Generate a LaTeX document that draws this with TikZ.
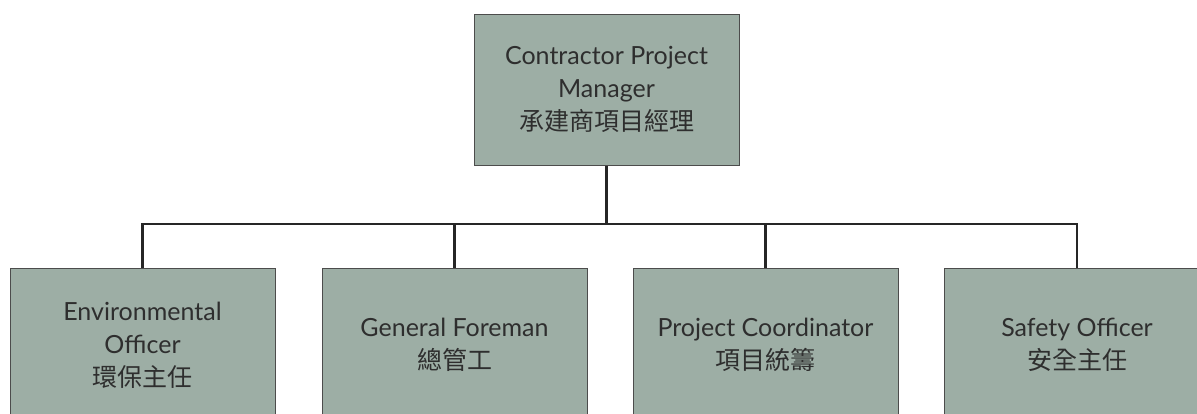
\documentclass[tikz,border=0pt]{standalone}
\usepackage{fontspec}
\setmainfont{Lato}
\newfontfamily\cjk{Noto Sans CJK TC}
\usepackage{tikz}
\usetikzlibrary{positioning}

\definecolor{boxfill}{HTML}{9DAEA5}
\definecolor{boxtext}{HTML}{2E2E2E}

\tikzset{
  role/.style={draw=black!70, line width=0.5pt, fill=boxfill, text=boxtext,
    minimum width=132.5pt, align=center, inner sep=0pt,
    font=\fontsize{12.5}{16.5}\selectfont},
  link/.style={draw=black!85, line width=1.1pt}
}

\begin{document}
\begin{tikzpicture}[x=0.5pt, y=-0.5pt]
  \useasboundingbox (0,0) rectangle (1197,413);
  \clip (0,0) rectangle (1197,413);

  % head
  \node[role, minimum height=75.5pt] (pm) at (606.5,89.5)
    {Contractor Project\\Manager\\{\cjk 承建商項目經理}};

  % staff
  \foreach \name/\x/\txt in {
      env/142.5/{Environmental\\Officer\\{\cjk 環保主任}},
      gf/454.5/{General Foreman\\{\cjk 總管工}},
      pc/765.5/{Project Coordinator\\{\cjk 項目統籌}},
      safety/1077/{Safety Officer\\{\cjk 安全主任}}}
    \node[role, minimum height=77pt] (\name) at (\x,345) {\txt};

  % lines
  \coordinate (bus) at (606.5,224);
  \draw[link] (pm.south) -- (pm |- bus);
  \draw[link] (env.north) |- (safety.north |- bus) -- (safety.north);
  \foreach \n in {gf,pc}
    \draw[link] (\n.north) -- (\n.north |- bus);
\end{tikzpicture}
\end{document}
